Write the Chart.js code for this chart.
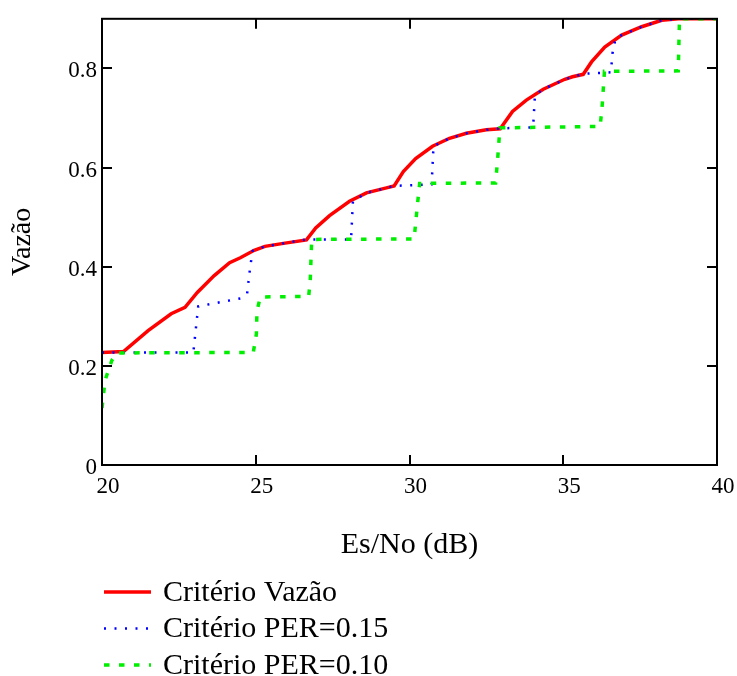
<!DOCTYPE html>
<html><head><meta charset="utf-8">
<script src="https://cdn.jsdelivr.net/npm/chart.js@4"></script>
<style>html,body{margin:0;padding:0;background:#fff}</style>
</head><body>
<canvas id="c" width="737" height="676"></canvas>
<script>
const xTickValues = [20, 25, 30, 35, 40];
const yTickValues = [0, 0.2, 0.4, 0.6, 0.8];
const seriesLabels = ["Critério Vazão", "Critério PER=0.15", "Critério PER=0.10"];
const xTitle = "Es/No (dB)";
const yTitle = "Vazão";

const vazaoX = [20, 20.7, 21.5, 22.25, 22.7, 23.1, 23.65, 24.15, 24.5, 24.95, 25.3, 25.9, 26.65, 26.95, 27.4, 28.05, 28.6, 29.25, 29.5, 29.8, 30.2, 30.75, 31.3, 31.85, 32.5, 32.95, 33.35, 33.8, 34.35, 35.05, 35.3, 35.65, 35.92, 36.35, 36.9, 37.55, 38.2, 38.75, 40];
const vazaoY = [0.227, 0.229, 0.271, 0.305, 0.318, 0.348, 0.382, 0.408, 0.418, 0.433, 0.441, 0.447, 0.454, 0.478, 0.503, 0.532, 0.549, 0.559, 0.563, 0.592, 0.618, 0.643, 0.659, 0.669, 0.676, 0.678, 0.713, 0.736, 0.758, 0.778, 0.783, 0.788, 0.813, 0.843, 0.867, 0.884, 0.897, 0.9, 0.9];

const per15X = [20, 22.97, 23.13, 24.5, 24.72, 24.82, 24.9, 25.3, 25.9, 26.65, 28.1, 28.16, 28.6, 29.25, 29.5, 30.72, 30.78, 31.3, 31.85, 32.5, 32.95, 34.02, 34.08, 34.35, 35.05, 35.3, 35.65, 36.55, 36.6, 36.7, 36.9, 37.55, 38.2, 38.75, 40];
const per15Y = [0.227, 0.227, 0.32, 0.336, 0.346, 0.4, 0.432, 0.441, 0.447, 0.455, 0.455, 0.532, 0.549, 0.559, 0.563, 0.566, 0.643, 0.659, 0.669, 0.676, 0.679, 0.681, 0.746, 0.758, 0.778, 0.783, 0.789, 0.792, 0.83, 0.86, 0.867, 0.884, 0.897, 0.9, 0.9];

const per10X = [20, 20.1, 20.32, 20.5, 24.92, 25.02, 25.04, 25.15, 26.72, 26.77, 26.82, 30.15, 30.25, 30.33, 32.8, 32.87, 32.94, 36.2, 36.26, 36.34, 38.74, 38.78, 40];
const per10Y = [0.115, 0.171, 0.211, 0.226, 0.227, 0.264, 0.311, 0.339, 0.34, 0.37, 0.455, 0.456, 0.52, 0.568, 0.569, 0.62, 0.68, 0.683, 0.72, 0.794, 0.795, 0.9, 0.9];

const FONT = "'Liberation Serif', 'Times New Roman', serif";
const toPts = (xs, ys) => xs.map((x, i) => ({x, y: ys[i]}));

const framePlugin = {
  id: 'frame',
  afterDatasetsDraw(chart) {
    const {ctx, chartArea: a, scales: {x, y}} = chart;
    ctx.save();
    ctx.strokeStyle = '#000';
    ctx.lineWidth = 2;
    ctx.strokeRect(a.left, a.top, a.right - a.left, a.bottom - a.top);
    const L = 10;
    ctx.beginPath();
    x.ticks.forEach(t => {
      const p = Math.round(x.getPixelForValue(t.value));
      ctx.moveTo(p, a.bottom); ctx.lineTo(p, a.bottom - L);
      ctx.moveTo(p, a.top); ctx.lineTo(p, a.top + L);
    });
    y.ticks.forEach(t => {
      const p = Math.round(y.getPixelForValue(t.value));
      ctx.moveTo(a.left, p); ctx.lineTo(a.left + L, p);
      ctx.moveTo(a.right, p); ctx.lineTo(a.right - L, p);
    });
    ctx.stroke();
    ctx.restore();
  }
};

const legendPlugin = {
  id: 'bottomLegend',
  afterDraw(chart) {
    const ctx = chart.ctx;
    const rows = [592, 628.5, 665];
    ctx.save();
    chart.data.datasets.forEach((ds, i) => {
      const yy = rows[i];
      ctx.strokeStyle = ds.borderColor;
      ctx.lineWidth = ds.borderWidth;
      ctx.setLineDash(ds.borderDash || []);
      ctx.beginPath();
      ctx.moveTo(104, yy); ctx.lineTo(151, yy);
      ctx.stroke();
      ctx.setLineDash([]);
      ctx.fillStyle = '#000';
      ctx.font = "30px " + FONT;
      ctx.textBaseline = 'middle';
      ctx.textAlign = 'left';
      ctx.fillText(ds.label, 163, yy + 1);
    });
    ctx.restore();
  }
};

new Chart(document.getElementById('c'), {
  type: 'scatter',
  data: {
    datasets: [
      {label: seriesLabels[0], data: toPts(vazaoX, vazaoY), showLine: true, borderColor: '#ff0000', borderWidth: 3.5, pointRadius: 0, tension: 0, order: 3},
      {label: seriesLabels[1], data: toPts(per15X, per15Y), showLine: true, borderColor: '#0000ff', borderWidth: 2.5, borderDash: [2, 8.5], pointRadius: 0, tension: 0, order: 2},
      {label: seriesLabels[2], data: toPts(per10X, per10Y), showLine: true, borderColor: '#00ee00', borderWidth: 3.5, borderDash: [5.5, 9.5], pointRadius: 0, tension: 0, order: 1}
    ]
  },
  options: {
    responsive: false,
    animation: false,
    layout: {padding: {left: 0, top: 16, right: 20, bottom: 113}},
    plugins: {legend: {display: false}, tooltip: {enabled: false}},
    scales: {
      x: {
        type: 'linear', min: 20, max: 40,
        afterBuildTicks: s => { s.ticks = xTickValues.map(v => ({value: v})); },
        afterFit: s => { s.height = 98; },
        grid: {display: false, drawTicks: false},
        border: {display: false},
        ticks: {color: '#000', font: {family: FONT, size: 23}, padding: 8, labelOffset: 6, maxRotation: 0, callback: v => String(v)},
        title: {display: true, text: xTitle, color: '#000', font: {family: FONT, size: 30}, padding: {top: 0, bottom: 0}}
      },
      y: {
        type: 'linear', min: 0, max: 0.9,
        afterBuildTicks: s => { s.ticks = yTickValues.map(v => ({value: v})); },
        afterFit: s => { s.width = 102; },
        grid: {display: false, drawTicks: false},
        border: {display: false},
        ticks: {color: '#000', font: {family: FONT, size: 23}, padding: 5, labelOffset: 3, callback: v => String(v)},
        title: {display: true, text: yTitle, color: '#000', font: {family: FONT, size: 28}, padding: {top: 6, bottom: 0}}
      }
    }
  },
  plugins: [framePlugin, legendPlugin]
});
</script>
</body></html>
